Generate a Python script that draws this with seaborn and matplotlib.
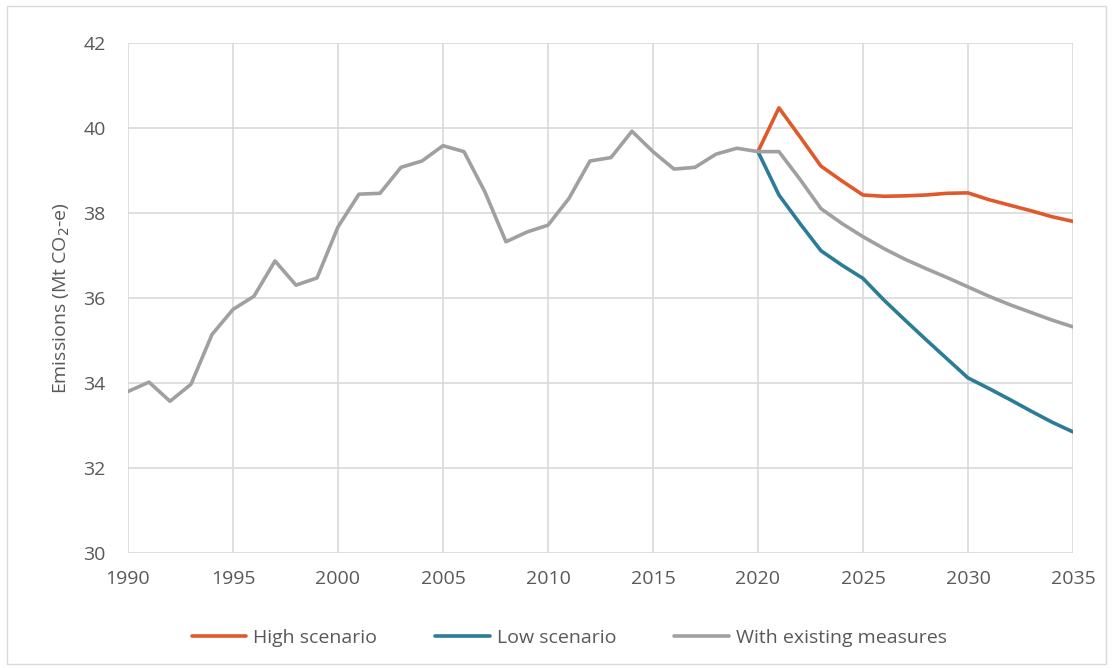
import matplotlib
matplotlib.use("Agg")
import matplotlib.pyplot as plt
import seaborn as sns
import pandas as pd
import numpy as np
from matplotlib.patches import Rectangle

# 数据：历史排放 + 三种情景（Mt CO2-e）
years_wem = list(range(1990, 2036))
wem = [33.80, 34.02, 33.57, 33.97, 35.14, 35.73, 36.04, 36.87, 36.30, 36.47,
       37.67, 38.44, 38.46, 39.07, 39.22, 39.58, 39.44, 38.49, 37.32, 37.55,
       37.71, 38.34, 39.22, 39.30, 39.92, 39.44, 39.03, 39.07, 39.38, 39.52,
       39.44, 39.44, 38.79, 38.10, 37.75, 37.44, 37.16, 36.91, 36.69, 36.48,
       36.26, 36.04, 35.84, 35.66, 35.48, 35.32]
years_proj = list(range(2020, 2036))
high = [39.44, 40.47, 39.79, 39.10, 38.75, 38.42, 38.39, 38.40, 38.42, 38.46,
        38.47, 38.31, 38.18, 38.05, 37.91, 37.80]
low = [39.44, 38.42, 37.75, 37.11, 36.77, 36.46, 35.95, 35.48, 35.02, 34.57,
       34.12, 33.87, 33.61, 33.34, 33.08, 32.85]

series_names = ["High scenario", "Low scenario", "With existing measures"]
series_colors = ["#E0592A", "#2B7C96", "#A0A0A0"]
x_ticks = list(range(1990, 2036, 5))
y_ticks = list(range(30, 43, 2))

df = pd.concat([
    pd.DataFrame({"year": years_proj, "value": high, "series": series_names[0]}),
    pd.DataFrame({"year": years_proj, "value": low, "series": series_names[1]}),
    pd.DataFrame({"year": years_wem, "value": wem, "series": series_names[2]}),
])

sns.set_style("white")
plt.rcParams["font.family"] = ["Open Sans", "DejaVu Sans"]

fig = plt.figure(figsize=(11.13, 6.68), dpi=100)
ax = fig.add_axes([0.115, 0.172, 0.849, 0.764])

# 外框
fig.patches.append(Rectangle((0.006, 0.006), 0.988, 0.985, transform=fig.transFigure,
                             fill=False, edgecolor="#d9d9d9", linewidth=1))

sns.lineplot(data=df, x="year", y="value", hue="series", hue_order=series_names,
             palette=series_colors, linewidth=2.6, ax=ax)

ax.set_xlim(1990, 2035)
ax.set_ylim(30, 42)
ax.set_xticks(x_ticks)
ax.set_yticks(y_ticks)
ax.grid(True, color="#d9d9d9", linewidth=1.2)
ax.set_axisbelow(True)
for s in ax.spines.values():
    s.set_visible(False)
ax.tick_params(axis="both", length=0, labelsize=14, colors="#595959")
ax.tick_params(axis="x", pad=12)
ax.tick_params(axis="y", pad=16)
ax.set_xlabel("")
ax.set_ylabel("Emissions (Mt CO$_2$-e)", fontsize=14, color="#595959", labelpad=8)

ax.legend(loc="upper center", bbox_to_anchor=(0.467, -0.115), ncol=3, frameon=False,
          fontsize=14, handlelength=2.8, columnspacing=3.0, handletextpad=0.35,
          labelcolor="#595959")

plt.savefig("out.png", dpi=100)
